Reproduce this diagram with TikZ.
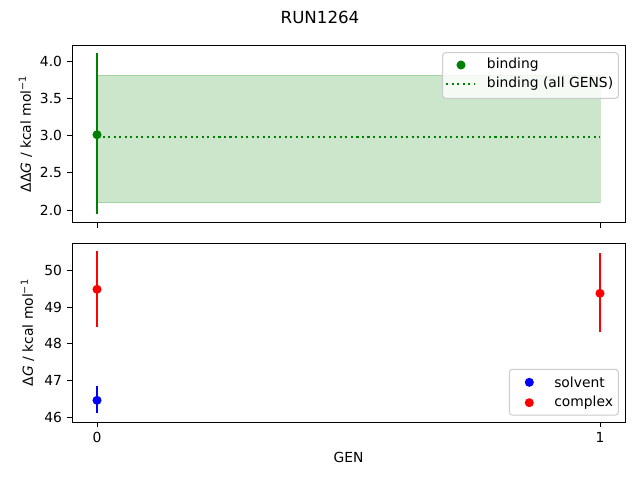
\documentclass[tikz,border=0pt]{standalone}
\usepackage{fontspec}
\setmainfont{DejaVu Sans}
\definecolor{mplgreen}{HTML}{008000}
\definecolor{mplblue}{HTML}{0000FF}
\definecolor{mplred}{HTML}{FF0000}
\definecolor{legedge}{HTML}{CCCCCC}
\begin{document}
\begin{tikzpicture}[x=0.75pt,y=-0.75pt,
  every node/.style={inner sep=0pt,font=\fontsize{10.4}{12.5}\selectfont},
  spine/.style={draw=black,line width=0.75pt},
  tickmark/.style={draw=black,line width=0.75pt},
  ebar/.style={line width=1.56pt},
  ylab/.style={anchor=east},
  xlab/.style={anchor=north},
  legframe/.style={draw=legedge,fill=white,fill opacity=0.8,rounded corners=2.2pt,line width=0.75pt},
  legtext/.style={anchor=west}]
\def\mr{3.4pt}
\useasboundingbox (0,0) rectangle (640,480);
% ---------------- title
\node[font=\fontsize{12.5}{15}\selectfont] (title) at (320,17) {RUN1264};
% ---------------- top axes
\fill[mplgreen,fill opacity=0.2] (97,75) rectangle (600,202.7);
\draw[mplgreen,opacity=0.2,line width=0.75pt] (97,75) rectangle (600,202.7);
\draw[mplgreen,line width=1.56pt,dash pattern=on 1.56pt off 2.58pt] (97,137.3) -- (600,137.3);
\draw[ebar,mplgreen] (97,53.3) -- (97,214.3);
\fill[mplgreen] (97,134.7) circle[radius=\mr];
\draw[spine] (72,45) rectangle (625,222.7);
\foreach \v/\yy in {4.0/61.7,3.5/98.8,3.0/135.85,2.5/172.9,2.0/210}{
  \draw[tickmark] (72,\yy) -- (67.14,\yy);
  \node[ylab] at (62.3,\yy) {\v};
}
\foreach \xx in {97,600}{\draw[tickmark] (\xx,222.7) -- (\xx,227.56);}
\node[rotate=90] (ylabtop) at (25.5,133.8) {ΔΔ\textit{G} / kcal mol\textsuperscript{−1}};
% legend top
\path[legframe] (442.7,52.7) rectangle (618.3,98.3);
\fill[mplgreen] (461,65) circle[radius=\mr];
\draw[mplgreen,line width=1.56pt,dash pattern=on 1.56pt off 2.58pt] (446,84) -- (474,84);
\node[legtext] (lb1) at (486.7,65) {binding};
\node[legtext] (lb2) at (486.7,84) {binding (all GENS)};
% ---------------- bottom axes
\draw[ebar,mplred] (97,251) -- (97,326.7);
\fill[mplred] (97,289.3) circle[radius=\mr];
\draw[ebar,mplblue] (97,385.7) -- (97,413.3);
\fill[mplblue] (97,400.3) circle[radius=\mr];
\draw[ebar,mplred] (600,253.3) -- (600,331.7);
\fill[mplred] (600,293.3) circle[radius=\mr];
\draw[spine] (72,243.3) rectangle (625,422);
\foreach \v/\yy in {50/270.1,49/307,48/343.9,47/380.8,46/417.7}{
  \draw[tickmark] (72,\yy) -- (67.14,\yy);
  \node[ylab] at (62.3,\yy) {\v};
}
\foreach \xx/\lab in {97/0,600/1}{
  \draw[tickmark] (\xx,422) -- (\xx,426.86);
  \node[xlab] at (\xx,431.7) {\lab};
}
\node (genlab) at (348.5,457) {GEN};
\node[rotate=90] (ylabbot) at (27.5,332.6) {Δ\textit{G} / kcal mol\textsuperscript{−1}};
% legend bottom
\path[legframe] (509.3,369.3) rectangle (618.3,415);
\fill[mplblue] (529.3,382.3) circle[radius=\mr];
\fill[mplred] (529.3,402.7) circle[radius=\mr];
\node[legtext] (ls1) at (554,382.3) {solvent};
\node[legtext] (ls2) at (554,402.7) {complex};
\end{tikzpicture}
\end{document}
